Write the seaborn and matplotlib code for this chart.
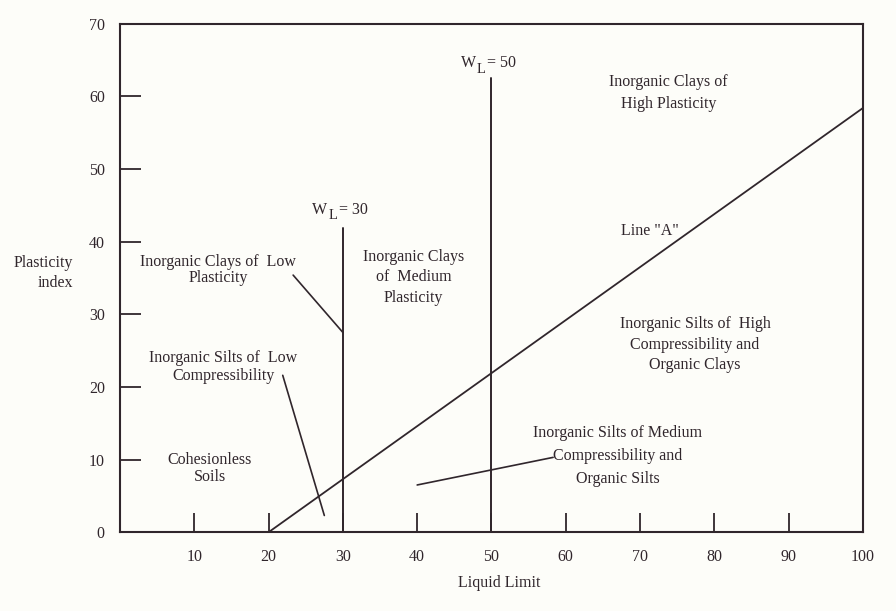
import numpy as np
import pandas as pd
import seaborn as sns
import matplotlib.pyplot as plt

# Carta de plasticidad (Casagrande)
INK = '#30262c'
BG = '#fdfdf9'
FS = 11.5

# Linea "A"
line_a_ll = [20, 100]
line_a_pi = [0, 58.4]

# Lineas verticales W_L
wl_values = [30, 50]
wl_tops = [41.9, 62.5]
wl_numbers = ['= 30', '= 50']
wl_label_y = [44.4, 64.6]

# Textos de zonas
zone_texts = [
    'Inorganic Clays of  Low\nPlasticity',
    'Inorganic Silts of  Low\nCompressibility',
    'Cohesionless\nSoils',
    'Inorganic Clays\nof  Medium\nPlasticity',
    'Inorganic Clays of\nHigh Plasticity',
    'Line "A"',
    'Inorganic Silts of  High\nCompressibility and\nOrganic Clays',
    'Inorganic Silts of Medium\nCompressibility and\nOrganic Silts',
]
zone_x = [13.2, 13.9, 12.1, 39.5, 73.8, 71.3, 77.4, 67.0]
zone_y = [36.1, 22.7, 8.8, 35.1, 60.5, 41.5, 25.8, 10.5]
zone_spacing = [1.02, 1.18, 1.1, 1.38, 1.46, 1.2, 1.38, 1.6]

# Lineas indicadoras (x0, x1), (y0, y1)
pointer_x = [[23.3, 30.0], [21.9, 27.5], [40.0, 58.3]]
pointer_y = [[35.4, 27.5], [21.6, 2.3], [6.5, 10.3]]

x_ticks = list(range(0, 101, 10))
y_ticks = list(range(0, 71, 10))

sns.set_theme(style='white')
plt.rcParams['font.family'] = ['Liberation Serif', 'DejaVu Serif']

fig = plt.figure(figsize=(8.96, 6.11), dpi=100, facecolor=BG)
ax = fig.add_axes([0.134, 0.129, 0.829, 0.832])
ax.set_facecolor(BG)

df_a = pd.DataFrame({'LL': line_a_ll, 'PI': line_a_pi})
sns.lineplot(data=df_a, x='LL', y='PI', color=INK, linewidth=1.3, ax=ax)

for wl, top in zip(wl_values, wl_tops):
    ax.plot([wl, wl], [0, top], color=INK, linewidth=1.4)

# W_L con subindice grande como en el original
for wl, num, ly in zip(wl_values, wl_numbers, wl_label_y):
    ax.annotate('W', (wl, ly), xytext=(-22, 0), textcoords='offset points',
                ha='left', va='center', fontsize=FS, color=INK)
    ax.annotate('L', (wl, ly), xytext=(-10.5, -4.3), textcoords='offset points',
                ha='left', va='center', fontsize=10.5, color=INK)
    ax.annotate(num, (wl, ly), xytext=(-3, 0), textcoords='offset points',
                ha='left', va='center', fontsize=FS, color=INK)

for px, py in zip(pointer_x, pointer_y):
    ax.plot(px, py, color=INK, linewidth=1.2)

for t, x, y, ls in zip(zone_texts, zone_x, zone_y, zone_spacing):
    ax.text(x, y, t, ha='center', va='center', multialignment='center',
            fontsize=FS, color=INK, linespacing=ls)

ax.set_xlim(0, 100)
ax.set_ylim(0, 70)
ax.set_xticks(x_ticks)
ax.set_yticks(y_ticks)
ax.set_xticklabels(['' if v == 0 else str(v) for v in x_ticks])
ax.tick_params(axis='x', direction='in', length=14, width=1.3, color=INK,
               labelsize=FS, labelcolor=INK, pad=12, bottom=True)
ax.tick_params(axis='y', direction='in', length=15, width=1.3, color=INK,
               labelsize=FS, labelcolor=INK, pad=11, left=True)

for s in ax.spines.values():
    s.set_color(INK)
    s.set_linewidth(1.5)

ax.set_xlabel('Liquid Limit', fontsize=FS, color=INK)
ax.xaxis.set_label_coords(0.51, -0.085)
ax.set_ylabel('Plasticity\nindex', fontsize=FS, color=INK, rotation=0,
              ha='right', va='center', multialignment='right', linespacing=1.4)
ax.yaxis.set_label_coords(-0.063, 0.51)

fig.savefig('out.png', dpi=100, facecolor=BG)
